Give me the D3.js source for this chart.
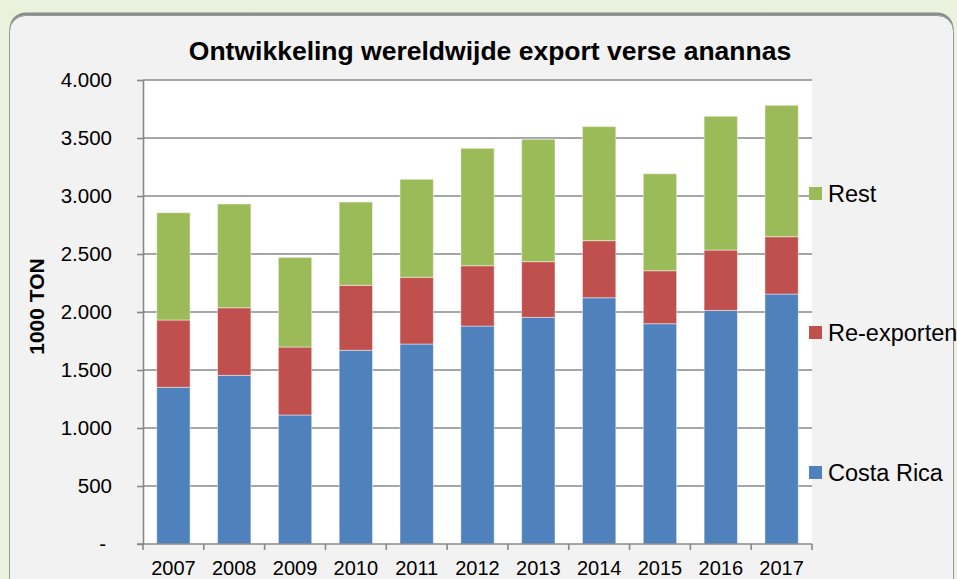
<!DOCTYPE html>
<html>
<head>
<meta charset="utf-8">
<script src="https://cdn.jsdelivr.net/npm/d3@7"></script>
<style>
	html, body { margin: 0; padding: 0; background: #eaf1dd; overflow: hidden; }
	svg { display: block; }
	text { font-family: "Liberation Sans", Arial, sans-serif; fill: #000; }
</style>
</head>
<body>
<svg id="chart" width="957" height="579"></svg>
<script>
// data (1000 ton)
var years = ['2007', '2008', '2009', '2010', '2011', '2012', '2013', '2014', '2015', '2016', '2017'];
var costaRica = [1351, 1454, 1112, 1670, 1724, 1879, 1954, 2123, 1899, 2014, 2155];
var reExport = [580, 583, 586, 560, 575, 520, 480, 492, 457, 520, 494];
var rest = [925, 894, 773, 718, 845, 1012, 1055, 983, 836, 1153, 1133];
var seriesNames = ['Costa Rica', 'Re-exporten', 'Rest'];
var seriesColors = ['#4f81bd', '#c0504d', '#9bbb59'];
var yTicks = [0, 500, 1000, 1500, 2000, 2500, 3000, 3500, 4000];

var svg = d3.select('#chart');

//panel behind the chart
var defs = svg.append('defs');
var grad = defs.append('linearGradient').attr('id', 'topShade')
	.attr('x1', 0).attr('y1', 0).attr('x2', 0).attr('y2', 1);
grad.append('stop').attr('offset', '0%').attr('stop-color', '#8c8c8c');
grad.append('stop').attr('offset', '100%').attr('stop-color', '#f2f2f2');

svg.append('rect')
	.attr('x', 9.5).attr('y', 12.5)
	.attr('width', 944).attr('height', 590)
	.attr('rx', 16).attr('ry', 16)
	.style('fill', 'url(#topShade)');
svg.append('rect')
	.attr('x', 9.5).attr('y', 15.5)
	.attr('width', 944).attr('height', 590)
	.attr('rx', 16).attr('ry', 16)
	.style('fill', '#f2f2f2')
	.style('stroke', '#9a9a9a')
	.style('stroke-width', 1);

//scales
var plot = {left: 143, right: 812, top: 80, bottom: 544};
var x = d3.scaleBand().domain(years)
	.range([plot.left, plot.right])
	.paddingInner(0.452).paddingOuter(0.226);
var y = d3.scaleLinear().domain([0, 4000]).range([plot.bottom, plot.top]);

svg.append('rect')
	.attr('x', plot.left).attr('y', plot.top)
	.attr('width', plot.right - plot.left).attr('height', plot.bottom - plot.top)
	.style('fill', '#fff');

//gridlines
svg.append('g').selectAll('line')
	.data(yTicks.slice(1))
	.join('line')
	.attr('x1', plot.left).attr('x2', plot.right)
	.attr('y1', d => y(d)).attr('y2', d => y(d))
	.style('stroke', '#888').style('stroke-width', 1.6);

//stacked bars
var table = years.map((yr, i) => ({year: yr, 'Costa Rica': costaRica[i], 'Re-exporten': reExport[i], 'Rest': rest[i]}));
var stacked = d3.stack().keys(seriesNames)(table);

svg.append('g').selectAll('g')
	.data(stacked)
	.join('g')
	.style('fill', (d, i) => seriesColors[i])
	.selectAll('rect')
	.data(d => d)
	.join('rect')
	.attr('x', d => x(d.data.year))
	.attr('width', x.bandwidth())
	.attr('y', d => y(d[1]))
	.attr('height', d => y(d[0]) - y(d[1]))
	.style('stroke', 'rgba(255,255,255,0.45)')
	.style('stroke-width', 1);

//y axis
var fmt = d3.formatLocale({decimal: ',', thousands: '.', grouping: [3], currency: ['', '']}).format(',');
var yAxis = svg.append('g')
	.attr('transform', 'translate(' + plot.left + ',0)')
	.call(d3.axisLeft(y).tickValues(yTicks).tickSize(6).tickSizeOuter(0).tickPadding(25)
		.tickFormat(d => d === 0 ? '-' : fmt(d)));
yAxis.select('.domain').style('stroke', '#888').style('stroke-width', 1.6);
yAxis.selectAll('.tick line').style('stroke', '#888').style('stroke-width', 1.6);
yAxis.selectAll('.tick text')
	.style('font-size', '20.5px')
	.style('font-family', '"Liberation Sans", Arial, sans-serif')
	.attr('dx', d => d === 0 ? -6 : 0);

//x axis: ticks sit between the categories
var xAxis = svg.append('g')
	.attr('transform', 'translate(0,' + plot.bottom + ')')
	.call(d3.axisBottom(x).tickSize(0).tickPadding(17));
xAxis.select('.domain').remove();
xAxis.selectAll('.tick text')
	.style('font-size', '20px')
	.style('font-family', '"Liberation Sans", Arial, sans-serif');
svg.append('line')
	.attr('x1', plot.left - 6).attr('x2', plot.right)
	.attr('y1', plot.bottom).attr('y2', plot.bottom)
	.style('stroke', '#888').style('stroke-width', 1.6);
svg.append('g').selectAll('line')
	.data(d3.range(years.length + 1))
	.join('line')
	.attr('x1', i => plot.left + i * x.step()).attr('x2', i => plot.left + i * x.step())
	.attr('y1', plot.bottom).attr('y2', plot.bottom + 6)
	.style('stroke', '#888').style('stroke-width', 1.6);

//title
svg.append('text')
	.attr('x', 490).attr('y', 60)
	.attr('text-anchor', 'middle')
	.style('font-size', '26.5px').style('font-weight', 'bold')
	.text('Ontwikkeling wereldwijde export verse anannas');

//y axis title
svg.append('text')
	.attr('transform', 'translate(44,306.5) rotate(-90)')
	.attr('text-anchor', 'middle')
	.style('font-size', '21px').style('font-weight', 'bold')
	.text('1000 TON');

//legend
var legendY = {'Rest': 193.5, 'Re-exporten': 332.5, 'Costa Rica': 472.5};
var legend = svg.append('g').selectAll('g')
	.data(seriesNames.slice().reverse())
	.join('g')
	.attr('transform', d => 'translate(809,' + legendY[d] + ')');
legend.append('rect')
	.attr('x', 0).attr('y', -6.5).attr('width', 13).attr('height', 13)
	.style('fill', d => seriesColors[seriesNames.indexOf(d)]);
legend.append('text')
	.attr('x', 19).attr('y', 0).attr('dy', '0.35em')
	.style('font-size', '23.5px')
	.text(d => d);
</script>
</body>
</html>
